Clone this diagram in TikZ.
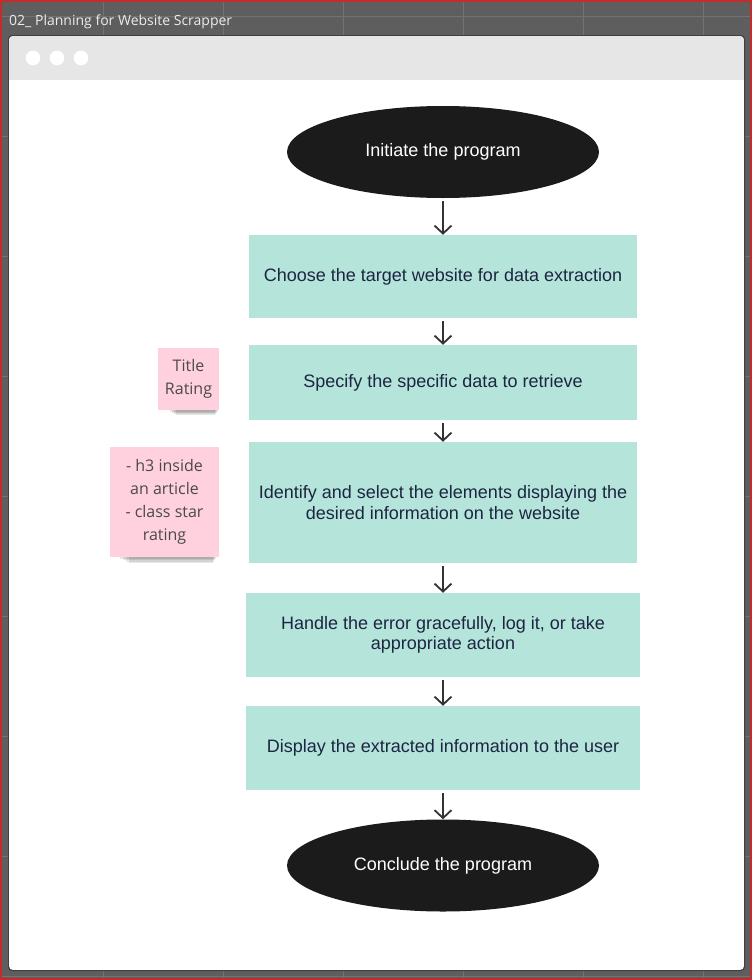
\documentclass[tikz,border=0pt]{standalone}
\usepackage{fontspec}
\setmainfont{Liberation Sans}
\newfontfamily\notefont{Open Sans}
\usetikzlibrary{arrows.meta,shapes.geometric}

\definecolor{bgdark}{HTML}{5E5E5E}
\definecolor{gridc}{HTML}{727272}
\definecolor{redb}{HTML}{C42B2B}
\definecolor{barc}{HTML}{E6E6E6}
\definecolor{boxc}{HTML}{B5E4DA}
\definecolor{txtc}{HTML}{1C2541}
\definecolor{blk}{HTML}{1B1B1B}
\definecolor{pinkc}{HTML}{FFD1DF}
\definecolor{notetxt}{HTML}{4A4A4A}
\definecolor{arrc}{HTML}{333333}
\definecolor{titlec}{HTML}{ECECEC}

\begin{document}
\begin{tikzpicture}[x=1pt,y=-1pt,
  stepbox/.style={rectangle, fill=boxc, text=txtc, font=\fontsize{18}{20.5}\selectfont, align=center, inner sep=0pt},
  term/.style={ellipse, fill=blk, text=white, font=\fontsize{18}{20}\selectfont, minimum width=312pt, minimum height=92pt, inner sep=0pt},
  flow/.style={draw=arrc, line width=1.8pt, shorten <=3pt, -{Straight Barb[length=8pt,width=17pt]}},
  note/.style={rectangle, fill=pinkc, text=notetxt, font=\notefont\fontsize{16}{23}\selectfont, align=center, inner sep=0pt},
  shadowc/.style={fill=black, opacity=0.09},
]
\useasboundingbox (0,0) rectangle (752,980);
% canvas background
\fill[bgdark] (0,0) rectangle (752,980);
\foreach \gx in {103,223,343,463,583,703} \draw[gridc, line width=0.8pt] (\gx,0) -- (\gx,980);
\foreach \gy in {16,136,256,376,496,616,736,856,976} \draw[gridc, line width=0.8pt] (0,\gy) -- (752,\gy);
\draw[redb, line width=2pt] (1,1) rectangle (751,979);
% title
\node[anchor=base west, inner sep=0pt, text=titlec, font=\notefont\fontsize{14}{16}\selectfont] (title) at (9,25) {02\_ Planning for Website Scrapper};
% window
\fill[black!75, rounded corners=4pt] (8,35) rectangle (745,971);
\begin{scope}
  \clip[rounded corners=4pt] (9,36) rectangle (744,970);
  \fill[white] (9,36) rectangle (744,970);
  \fill[barc] (9,36) rectangle (744,80);
\end{scope}
\foreach \dx in {33,57,81} \fill[white] (\dx,58) circle (7.3);

% flow nodes
\node[term] (e1) at (443,152) {Initiate the program};
\node[stepbox, minimum width=388pt, minimum height=83pt] (b1) at (443,276.5) {Choose the target website for data extraction};
\node[stepbox, minimum width=388pt, minimum height=75pt] (b2) at (443,382.5) {Specify the specific data to retrieve};
\node[stepbox, minimum width=388pt, minimum height=121pt] (b3) at (443,502.5) {Identify and select the elements displaying the\\desired information on the website};
\node[stepbox, minimum width=394pt, minimum height=84pt] (b4) at (443,635) {Handle the error gracefully, log it, or take\\appropriate action};
\node[stepbox, minimum width=394pt, minimum height=84pt] (b5) at (443,748) {Display the extracted information to the user};
\node[term] (e2) at (443,865.5) {Conclude the program};

\draw[flow] (e1) -- (b1);
\draw[flow] (b1) -- (b2);
\draw[flow] (b2) -- (b3);
\draw[flow] (b3) -- (b4);
\draw[flow] (b4) -- (b5);
\draw[flow] (b5) -- (e2);

% sticky notes shadows
\foreach \s in {0,1,2,3} {
  \fill[shadowc] (170+\s*2,404+\s*0.5) rectangle (218-\s,411.5+\s*1.2);
  \fill[shadowc] (120+\s*3,551+\s*0.5) rectangle (216-\s,558.5+\s*1.5);
}
% sticky notes
\node[note, minimum width=61pt, minimum height=62pt] (n1) at (188.5,379) {Title\\Rating};
\node[note, minimum width=109pt, minimum height=110pt] (n2) at (164.5,502) {- h3 inside\\an article\\- class star\\rating};
\end{tikzpicture}
\end{document}
